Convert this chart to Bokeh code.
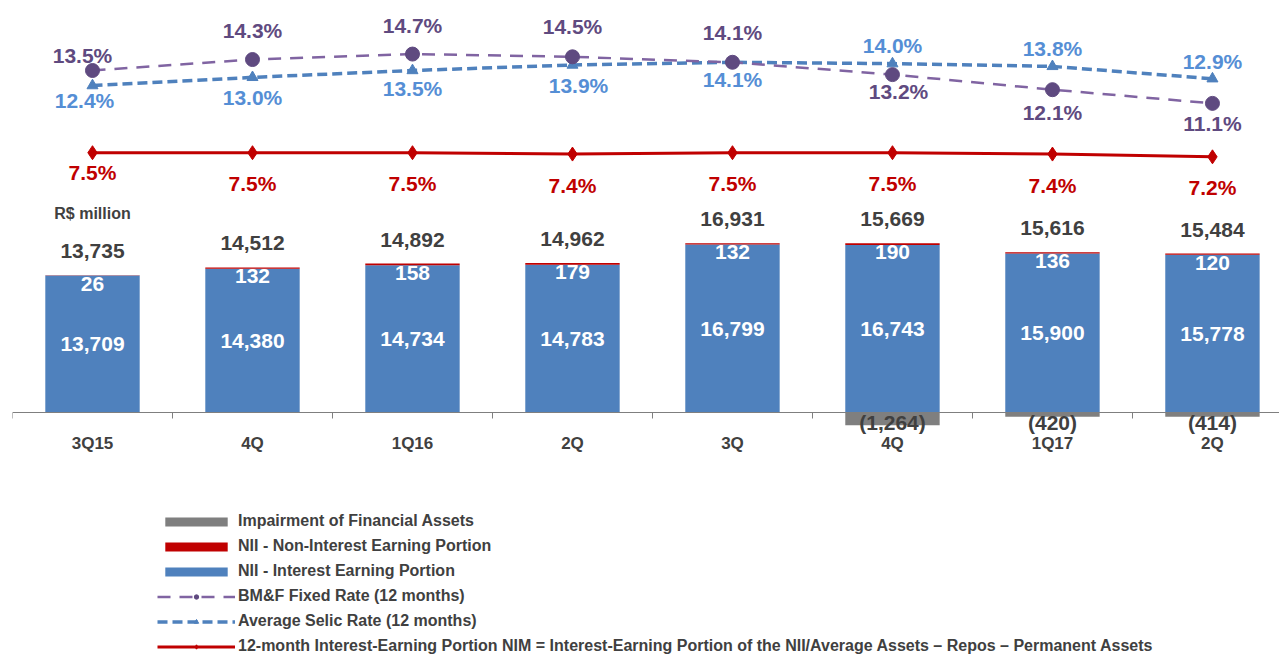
from bokeh.plotting import figure
from bokeh.models import ColumnDataSource, Range1d, FixedTicker, Legend, LegendItem
from bokeh.core.properties import value
from bokeh.embed import file_html
from bokeh.resources import INLINE

# ---------------- data ----------------
categories = ["3Q15", "4Q", "1Q16", "2Q", "3Q", "4Q", "1Q17", "2Q"]
interest_earning = [13709, 14380, 14734, 14783, 16799, 16743, 15900, 15778]
non_interest_earning = [26, 132, 158, 179, 132, 190, 136, 120]
impairment = [0, 0, 0, 0, 0, -1264, -420, -414]
nii_total = [13735, 14512, 14892, 14962, 16931, 15669, 15616, 15484]
bmf_rate = [13.5, 14.3, 14.7, 14.5, 14.1, 13.2, 12.1, 11.1]
selic_rate = [12.4, 13.0, 13.5, 13.9, 14.1, 14.0, 13.8, 12.9]
nim_rate = [7.5, 7.5, 7.5, 7.4, 7.5, 7.5, 7.4, 7.2]

# ---------------- label placement (style) ----------------
bmf_label_dy = [-15, -29, -29, -30, -30, 17, 23, 20]
bmf_label_dx = [-10, 0, 0, 0, 0, 6, 0, 0]
selic_label_dy = [15, 20, 18, 20, 17, -18, -18, -17]
selic_label_dx = [-8, 0, 0, 6, 0, 0, 0, 0]
nim_label_dy = [20, 31, 31, 31, 31, 31, 31, 31]

FONT = value("Liberation Sans")
BLUE = "#4F81BD"
RED = "#C00000"
GRAY = "#7F7F7F"
PURPLE_LINE = "#8064A2"
PURPLE_DARK = "#5F4A80"
SELIC_LABEL = "#558ED5"
DARK = "#404040"

x = list(range(len(categories)))
stack_top = [b + r for b, r in zip(interest_earning, non_interest_earning)]

bars = ColumnDataSource(dict(
    x=x,
    blue=interest_earning,
    blue_mid=[b / 2 for b in interest_earning],
    stack=stack_top,
    imp=impairment,
    blue_lbl=[f"{v:,}" for v in interest_earning],
    red_lbl=[f"{v:,}" for v in non_interest_earning],
    tot_lbl=[f"{v:,}" for v in nii_total],
))

imp_idx = [i for i, v in enumerate(impairment) if v != 0]
imp_src = ColumnDataSource(dict(
    x=[x[i] for i in imp_idx],
    y=[0 for i in imp_idx],
    lbl=[f"({abs(impairment[i]):,})" for i in imp_idx],
))

lines = ColumnDataSource(dict(
    x=x,
    bmf=bmf_rate, selic=selic_rate, nim=nim_rate,
    bmf_lbl=[f"{v:.1f}%" for v in bmf_rate],
    selic_lbl=[f"{v:.1f}%" for v in selic_rate],
    nim_lbl=[f"{v:.1f}%" for v in nim_rate],
    bmf_dy=bmf_label_dy, bmf_dx=bmf_label_dx,
    selic_dy=selic_label_dy, selic_dx=selic_label_dx,
    nim_dy=nim_label_dy,
))

p = figure(width=1279, height=658, output_backend="svg", toolbar_location=None,
           x_range=Range1d(-0.5, 7.419), y_range=Range1d(-24600, 41200),
           min_border_left=12, min_border_right=0, min_border_top=0, min_border_bottom=0)
p.extra_y_ranges = {"pct": Range1d(-29.42, 18.61)}
p.outline_line_color = None
p.xgrid.visible = False
p.ygrid.visible = False
p.yaxis.visible = False
p.background_fill_color = "white"
p.border_fill_color = "white"

# bars
r_blue = p.vbar(x="x", width=0.59, bottom=0, top="blue", source=bars,
                fill_color=BLUE, line_color=None)
r_red = p.vbar(x="x", width=0.59, bottom="blue", top="stack", source=bars,
               fill_color=RED, line_color=None)
r_gray = p.vbar(x="x", width=0.59, bottom=0, top="imp", source=bars,
                fill_color=GRAY, line_color=None)

# lines
r_selic = p.line("x", "selic", source=lines, y_range_name="pct", line_color=BLUE,
                 line_width=3.5, line_dash="10 5")
r_selic_m = p.scatter("x", "selic", source=lines, y_range_name="pct", marker="triangle",
                      size=11, fill_color=BLUE, line_color=BLUE)
r_bmf = p.line("x", "bmf", source=lines, y_range_name="pct", line_color=PURPLE_LINE,
               line_width=2.5, line_dash="13 9")
r_bmf_m = p.scatter("x", "bmf", source=lines, y_range_name="pct", marker="circle",
                    size=14, fill_color=PURPLE_DARK, line_color=PURPLE_DARK)
r_nim = p.line("x", "nim", source=lines, y_range_name="pct", line_color=RED, line_width=3)
r_nim_m = p.scatter("x", "nim", source=lines, y_range_name="pct", marker="diamond",
                    size=14, fill_color=RED, line_color=RED)

common = dict(text_font=FONT, text_font_style="bold", text_font_size="21px",
              text_align="center", text_baseline="middle")

# bar labels
p.text(x="x", y="blue_mid", text="blue_lbl", source=bars, text_color="white", **common)
p.text(x="x", y="stack", text="red_lbl", source=bars, text_color="white", y_offset=9, **common)
p.text(x="x", y="stack", text="tot_lbl", source=bars, text_color=DARK, y_offset=-24, **common)
p.text(x="x", y="y", text="lbl", source=imp_src, text_color=DARK, y_offset=10, **common)
p.text(x=[x[0]], y=[stack_top[0]], text=["R$ million"], text_color=DARK, y_offset=-62,
       text_font=FONT, text_font_style="bold", text_font_size="16px",
       text_align="center", text_baseline="middle")

# line labels
p.text(x="x", y="bmf", text="bmf_lbl", source=lines, y_range_name="pct",
       x_offset="bmf_dx", y_offset="bmf_dy", text_color=PURPLE_DARK, **common)
p.text(x="x", y="selic", text="selic_lbl", source=lines, y_range_name="pct",
       x_offset="selic_dx", y_offset="selic_dy", text_color=SELIC_LABEL, **common)
p.text(x="x", y="nim", text="nim_lbl", source=lines, y_range_name="pct",
       y_offset="nim_dy", text_color=RED, **common)

# x axis
ax = p.xaxis[0]
ax.fixed_location = 0
ax.ticker = FixedTicker(ticks=x, minor_ticks=[i - 0.5 for i in range(len(x) + 1)])
ax.major_label_overrides = {i: c for i, c in zip(x, categories)}
ax.major_tick_line_color = None
ax.major_tick_out = 0
ax.major_tick_in = 0
ax.minor_tick_out = 6
ax.minor_tick_in = 0
ax.minor_tick_line_color = GRAY
ax.axis_line_color = GRAY
ax.major_label_standoff = 15
ax.major_label_text_font = "Liberation Sans"
ax.major_label_text_font_style = "bold"
ax.major_label_text_font_size = "17px"
ax.major_label_text_color = DARK

legend = Legend(items=[
    LegendItem(label="Impairment of Financial Assets", renderers=[r_gray]),
    LegendItem(label="NII - Non-Interest Earning Portion", renderers=[r_red]),
    LegendItem(label="NII - Interest Earning Portion", renderers=[r_blue]),
    LegendItem(label="BM&F Fixed Rate (12 months)", renderers=[r_bmf, r_bmf_m]),
    LegendItem(label="Average Selic Rate (12 months)", renderers=[r_selic, r_selic_m]),
    LegendItem(label="12-month Interest-Earning Portion NIM = Interest-Earning Portion of the NII/Average Assets \u2013 Repos \u2013 Permanent Assets",
               renderers=[r_nim, r_nim_m]),
], location=(145, 3))
legend.margin = 0
legend.padding = 0
legend.border_line_color = None
legend.background_fill_alpha = 0
legend.glyph_width = 78
legend.glyph_height = 11
legend.label_height = 11
legend.spacing = 7
legend.label_standoff = 3
legend.label_text_font = "Liberation Sans"
legend.label_text_font_style = "bold"
legend.label_text_font_size = "16px"
legend.label_text_color = DARK
p.add_layout(legend)

open("out.html", "w").write(file_html(p, INLINE))
